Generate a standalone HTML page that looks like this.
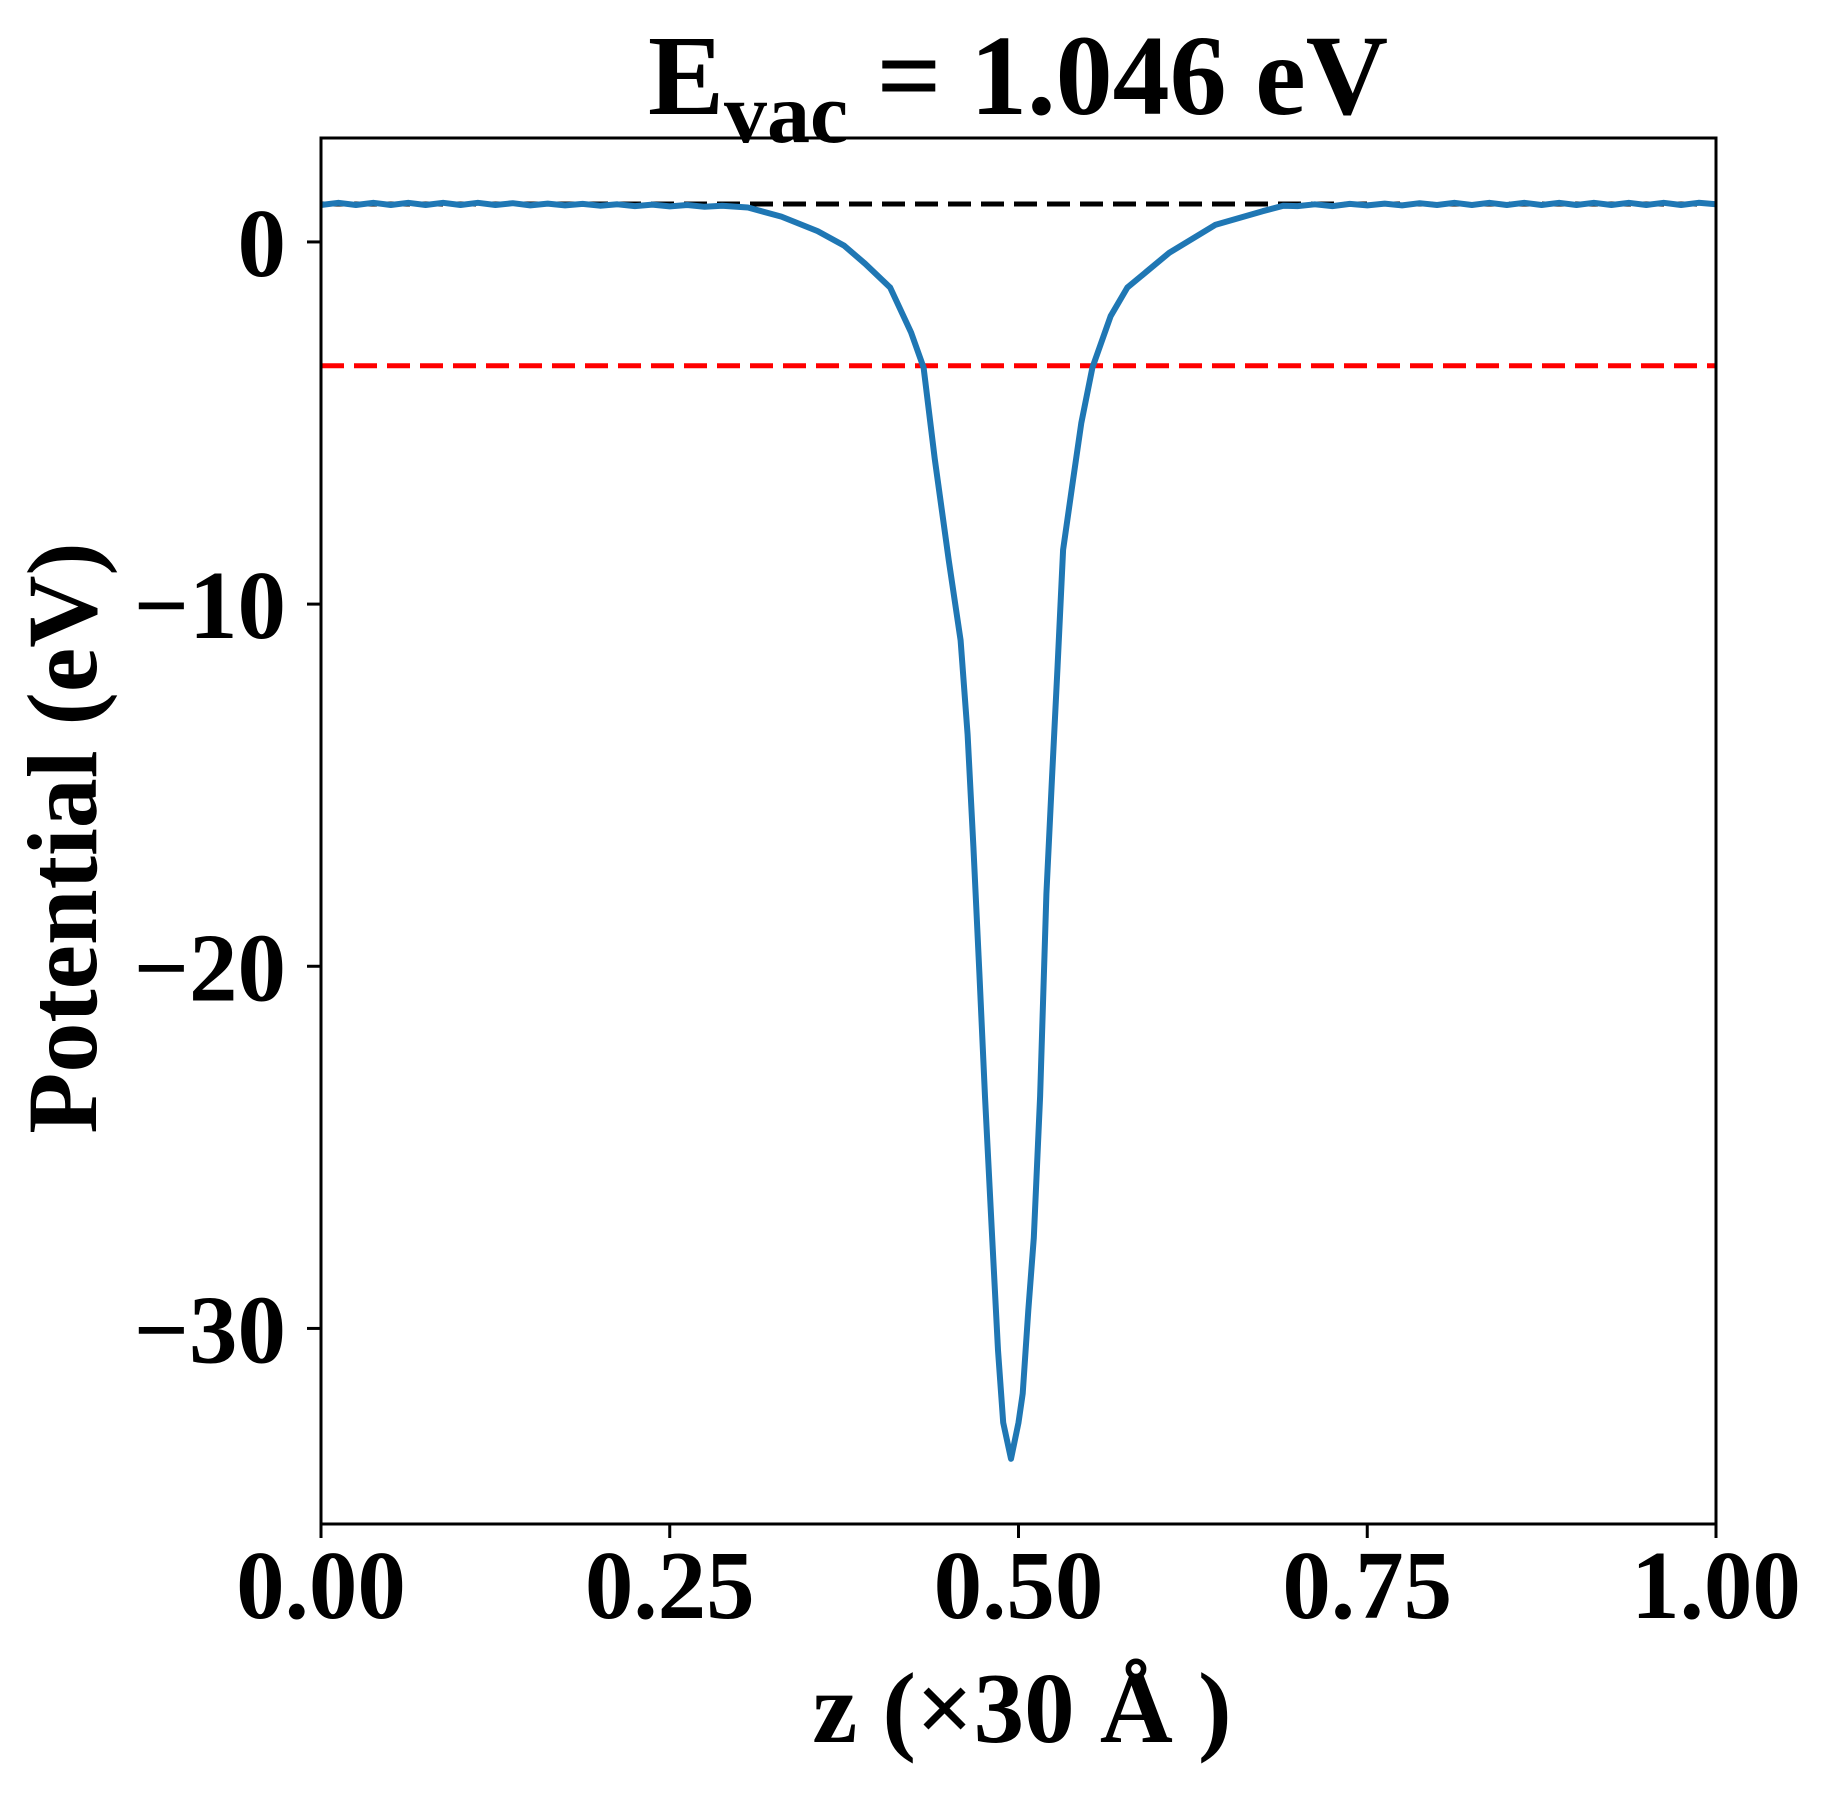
<!DOCTYPE html>
<html><head><meta charset="utf-8"><style>
html,body{margin:0;padding:0;background:#fff;}
svg{display:block;}
text{font-family:"Liberation Serif",serif;font-weight:bold;fill:#000;}
</style></head><body>
<svg id="chart" width="1833" height="1794" viewBox="0 0 1833 1794" xmlns="http://www.w3.org/2000/svg">
<text x="1018" y="114" font-size="114" text-anchor="middle">E<tspan font-size="86" dy="28">vac</tspan><tspan dy="-28"> = 1.046 eV</tspan></text>
<text x="1022" y="1742" font-size="101" text-anchor="middle">z (×30 Å )</text>
<text transform="translate(96,838) rotate(-90)" font-size="100" text-anchor="middle">Potential (eV)</text>
<g id="plot"></g>
</svg>
<script>
const evac = 1.046;
const fermi = -3.42;
const zValues = [0,0.0125,0.025,0.0375,0.05,0.0625,0.075,0.0875,0.1,0.1125,0.125,0.1375,0.15,0.1625,0.175,0.1875,0.2,0.2125,0.225,0.2375,0.25,0.2625,0.275,0.2875,0.306,0.33,0.356,0.375,0.39,0.408,0.423,0.432,0.44,0.45,0.4585,0.4635,0.4677,0.472,0.476,0.481,0.4853,0.489,0.4946,0.5,0.503,0.507,0.511,0.5155,0.52,0.524,0.528,0.532,0.539,0.545,0.553,0.566,0.578,0.608,0.641,0.675,0.69,0.7,0.7125,0.725,0.7375,0.75,0.7625,0.775,0.7875,0.8,0.8125,0.825,0.8375,0.85,0.8625,0.875,0.8875,0.9,0.9125,0.925,0.9375,0.95,0.9625,0.975,0.9875,1.0];
const potValues = [1.02,1.08,1.02,1.08,1.02,1.08,1.02,1.08,1.02,1.08,1.02,1.07,1.01,1.06,1.01,1.05,1.0,1.04,0.99,1.03,0.98,1.02,0.97,1.0,0.95,0.7,0.3,-0.1,-0.6,-1.26,-2.5,-3.47,-6.0,-8.8,-11.0,-13.6,-16.7,-20.2,-23.6,-27.4,-30.6,-32.6,-33.6,-32.6,-31.8,-29.5,-27.5,-23.6,-18.0,-14.8,-11.7,-8.5,-6.6,-5.0,-3.47,-2.05,-1.26,-0.3,0.47,0.85,1.0,0.99,1.04,0.99,1.05,1.01,1.06,1.01,1.07,1.02,1.08,1.02,1.08,1.02,1.08,1.02,1.08,1.02,1.08,1.02,1.08,1.02,1.08,1.02,1.08,1.04];
const xTicks = [0,0.25,0.5,0.75,1.0];
const xTickLabels = ["0.00","0.25","0.50","0.75","1.00"];
const yTicks = [0,-10,-20,-30];
const yTickLabels = ["0","\u221210","\u221220","\u221230"];

const L=321,R=1716,T=138,B=1524;
const yMax=2.87,yMin=-35.4;
const sx=v=>L+(v-0)/(1-0)*(R-L);
const sy=v=>T+(yMax-v)/(yMax-yMin)*(B-T);
const NS='http://www.w3.org/2000/svg';
const g=document.getElementById('plot');
function mk(tag,attrs){const e=document.createElementNS(NS,tag);for(const k in attrs)e.setAttribute(k,attrs[k]);g.appendChild(e);return e;}

const evl=mk('line',{x1:L,x2:R,y1:sy(evac),y2:sy(evac),stroke:'#000','stroke-width':5,'stroke-dasharray':'23 10'});


const fl=mk('line',{x1:L,x2:R,y1:sy(fermi),y2:sy(fermi),stroke:'#ff0000','stroke-width':5,'stroke-dasharray':'23 10'});



let d='';
zValues.forEach((z,i)=>{d+=(i?'L':'M')+sx(z).toFixed(1)+','+sy(potValues[i]).toFixed(1);});
const curve=mk('path',{d:d,fill:'none',stroke:'#1f77b4','stroke-width':6,'stroke-linejoin':'round'});



const frame=mk('rect',{x:L,y:T,width:R-L,height:B-T,fill:'none',stroke:'#000','stroke-width':3});



xTicks.forEach((v,i)=>{
  const t=mk('line',{x1:sx(v),x2:sx(v),y1:B,y2:B+14,stroke:'#000','stroke-width':3});
  
  
  const lb=mk('text',{x:sx(v),y:1618,'font-size':97,'text-anchor':'middle'});
  lb.textContent=xTickLabels[i];
  
  
});
yTicks.forEach((v,i)=>{
  const t=mk('line',{x1:L-14,x2:L,y1:sy(v),y2:sy(v),stroke:'#000','stroke-width':3});
  
  
  const lb=mk('text',{x:286,y:sy(v)+34,'font-size':97,'text-anchor':'end'});
  lb.textContent=yTickLabels[i];
  
  
});
</script>
</body></html>
